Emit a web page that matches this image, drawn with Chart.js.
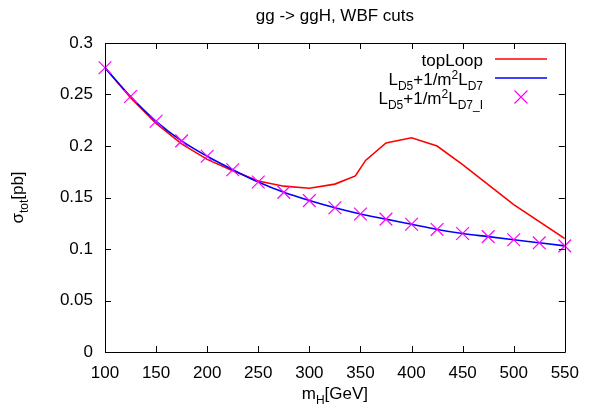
<!DOCTYPE html>
<html><head><meta charset="utf-8">
<script src="https://cdn.jsdelivr.net/npm/chart.js@4/dist/chart.umd.min.js"></script>
<style>html,body{margin:0;padding:0;background:#fff}#w{width:590px;height:408px}</style>
</head><body><div id="w"><canvas id="c"></canvas></div>
<script>
const titleText = "gg -> ggH, WBF cuts";
const massPoints = [100,125,150,175,200,225,250,275,300,325,350,375,400,425,450,475,500,525,550];
const d7Values   = [0.276,0.248,0.224,0.205,0.190,0.177,0.165,0.155,0.147,0.140,0.134,0.129,0.124,0.119,0.115,0.112,0.109,0.106,0.103];
const d7IValues  = [0.276,0.248,0.224,0.205,0.190,0.177,0.165,0.155,0.147,0.140,0.134,0.129,0.124,0.119,0.115,0.112,0.109,0.106,0.103];
const topMass    = [100,125,150,175,200,225,250,275,300,325,345,355,375,400,425,450,500,550];
const topValues  = [0.276,0.247,0.222,0.202,0.187,0.176,0.166,0.161,0.159,0.163,0.171,0.186,0.203,0.208,0.200,0.182,0.143,0.110];
const xTicks = [100,150,200,250,300,350,400,450,500,550];
const yTicks = [0,0.05,0.1,0.15,0.2,0.25,0.3];

const FONT = '"Liberation Sans", Arial, sans-serif';
const FS = 17;

function pts(xs, ys){ return xs.map((x,i)=>({x:x,y:ys[i]})); }

function richWidth(ctx, segs){
  let w=0;
  for(const [t,m] of segs){ ctx.font = (m? Math.round(FS*0.72):FS)+'px '+FONT; w+=ctx.measureText(t).width; }
  return w;
}
function drawRich(ctx, segs, x, y){
  for(const [t,m] of segs){
    const fs = m? Math.round(FS*0.72):FS;
    ctx.font = fs+'px '+FONT;
    const dy = m===1 ? FS*0.28 : (m===2 ? -FS*0.38 : 0);
    ctx.fillText(t, x, y+dy);
    x += ctx.measureText(t).width;
  }
}

const deco = {
  id:'deco',
  afterDraw(chart){
    const ctx = chart.ctx, a = chart.chartArea;
    const xs = chart.scales.x, ys = chart.scales.y;
    ctx.save();
    ctx.strokeStyle='#000'; ctx.lineWidth=1;
    ctx.beginPath();
    ctx.rect(Math.round(a.left)+0.5, Math.round(a.top)+0.5, Math.round(a.right-a.left), Math.round(a.bottom-a.top));
    ctx.stroke();
    const TL=6;
    ctx.beginPath();
    for(const v of xTicks){
      const px = Math.round(xs.getPixelForValue(v))+0.5;
      ctx.moveTo(px,a.bottom); ctx.lineTo(px,a.bottom-TL);
      ctx.moveTo(px,a.top); ctx.lineTo(px,a.top+TL);
    }
    for(const v of yTicks){
      const py = Math.round(ys.getPixelForValue(v))+0.5;
      ctx.moveTo(a.left,py); ctx.lineTo(a.left+TL,py);
      ctx.moveTo(a.right,py); ctx.lineTo(a.right-TL,py);
    }
    ctx.stroke();

    ctx.fillStyle='#000';
    ctx.textBaseline='alphabetic';
    ctx.textAlign='left';
    ctx.font = FS+'px '+FONT;
    let tw = ctx.measureText(titleText).width;
    const cx = (a.left+a.right)/2;
    ctx.fillText(titleText, cx - tw/2, 21);
    const xt = [['m',0],['H',1],['[GeV]',0]];
    tw = richWidth(ctx,xt);
    drawRich(ctx, xt, cx - tw/2, 399);
    const yt = [['σ',0],['tot',1],['[pb]',0]];
    tw = richWidth(ctx,yt);
    ctx.save();
    ctx.translate(23, (a.top+a.bottom)/2);
    ctx.rotate(-Math.PI/2);
    drawRich(ctx, yt, -tw/2, 0);
    ctx.restore();

    const rx = 483, lx0 = 495, lx1 = 547;
    const rows = [
      {segs:[['topLoop',0]], y:59, kind:'line', color:'#ff0000'},
      {segs:[['L',0],['D5',1],['+1/m',0],['2',2],['L',0],['D7',1]], y:78, kind:'line', color:'#0000ff'},
      {segs:[['L',0],['D5',1],['+1/m',0],['2',2],['L',0],['D7_I',1]], y:97, kind:'cross', color:'#ff00ff'}
    ];
    for(const r of rows){
      ctx.fillStyle='#000';
      const w = richWidth(ctx, r.segs);
      drawRich(ctx, r.segs, rx - w, r.y + 7);
      ctx.strokeStyle = r.color; ctx.lineWidth = 1.5;
      ctx.beginPath();
      if(r.kind==='line'){ ctx.moveTo(lx0, r.y); ctx.lineTo(lx1, r.y); }
      else { const c=(lx0+lx1)/2, s=6.5; ctx.lineWidth=1.2; ctx.moveTo(c-s,r.y-s); ctx.lineTo(c+s,r.y+s); ctx.moveTo(c-s,r.y+s); ctx.lineTo(c+s,r.y-s); }
      ctx.stroke();
    }
    ctx.restore();
  }
};

new Chart(document.getElementById('c'), {
  type:'line',
  data:{ datasets:[
    {label:'LD5+1/m2LD7_I', data:pts(massPoints,d7IValues), showLine:false, clip:false, borderColor:'#ff00ff', backgroundColor:'#ff00ff', pointStyle:'crossRot', pointRadius:9, pointBorderWidth:1.2, pointHoverRadius:9, order:0},
    {label:'LD5+1/m2LD7', data:pts(massPoints,d7Values), borderColor:'#0000ff', borderWidth:1.6, pointRadius:0, cubicInterpolationMode:'monotone', order:1},
    {label:'topLoop', data:pts(topMass,topValues), borderColor:'#ff0000', borderWidth:1.6, pointRadius:0, tension:0, order:2}
  ]},
  options:{
    responsive:true, maintainAspectRatio:false, animation:false,
    events:[],
    layout:{padding:{left:0,right:20,top:43,bottom:0}},
    plugins:{legend:{display:false}, title:{display:false}, tooltip:{enabled:false}},
    scales:{
      x:{type:'linear', min:100, max:550,
         afterFit(s){ s.height = 56; },
         afterBuildTicks(s){ s.ticks = xTicks.map(v=>({value:v})); },
         grid:{display:false, drawTicks:false}, border:{display:false},
         ticks:{padding:11, color:'#000', font:{family:FONT, size:FS}, maxRotation:0, autoSkip:false}},
      y:{type:'linear', min:0, max:0.3,
         afterFit(s){ s.width = 105; },
         afterBuildTicks(s){ s.ticks = yTicks.map(v=>({value:v})); },
         grid:{display:false, drawTicks:false}, border:{display:false},
         ticks:{padding:12, color:'#000', font:{family:FONT, size:FS}, autoSkip:false, callback:v=>String(+v.toFixed(2))}}
    }
  },
  plugins:[deco]
});
</script></body></html>
